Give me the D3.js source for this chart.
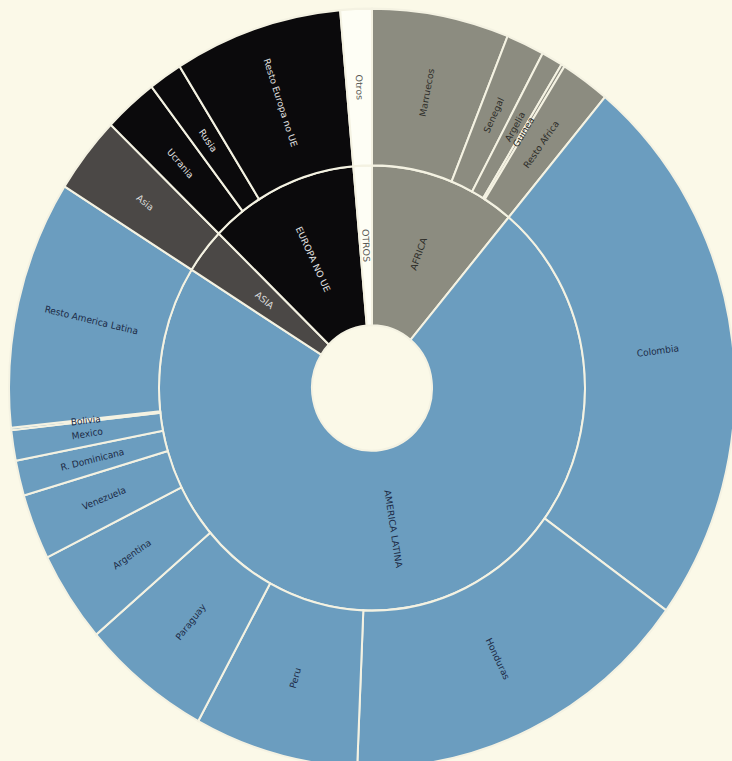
<!DOCTYPE html>
<html>
<head>
<meta charset="utf-8">
<script src="https://cdn.jsdelivr.net/npm/d3@7"></script>
<style>
  body { margin: 0; background: #fbf9e8; }
  #chart text { font-family: "DejaVu Sans", sans-serif; font-size: 9px; }
</style>
</head>
<body>
<div id="chart"></div>
<script>
(function(){
    // regiones (anillo interior)
    var regiones = ["AFRICA", "AMERICA LATINA", "ASIA", "EUROPA NO UE", "OTROS"];
    var coloresRegion = ["#8c8c80", "#6b9dbf", "#4b4846", "#0b0a0c", "#fefef5"];
    var textoRegion = ["#2e2e2a", "#1c2a45", "#dcdcdc", "#e2e2e2", "#5a5a55"];

    // paises (anillo exterior), en %
    var paises = ["Marruecos", "Senegal", "Argelia", "Guinea", "Resto Africa",
        "Colombia", "Honduras", "Peru", "Paraguay", "Argentina", "Venezuela",
        "R. Dominicana", "Mexico", "Bolivia", "Resto America Latina",
        "Asia",
        "Ucrania", "Rusia", "Resto Europa no UE",
        "Otros"];
    var regionDe = ["AFRICA", "AFRICA", "AFRICA", "AFRICA", "AFRICA",
        "AMERICA LATINA", "AMERICA LATINA", "AMERICA LATINA", "AMERICA LATINA", "AMERICA LATINA",
        "AMERICA LATINA", "AMERICA LATINA", "AMERICA LATINA", "AMERICA LATINA", "AMERICA LATINA",
        "ASIA",
        "EUROPA NO UE", "EUROPA NO UE", "EUROPA NO UE",
        "OTROS"];
    var valores = [6.1, 1.7, 0.95, 0.15, 2.2,
        23.9, 15.7, 7.3, 5.8, 3.9, 2.8, 1.5, 1.3, 0.1, 10.6,
        3.3,
        2.4, 1.5, 7.5,
        1.4];

    var width = 732;
    var height = 761;

    var svg = d3.select("#chart")
        .append("svg")
        .attr("width", width)
        .attr("height", height)

    svg.append("rect")
        .attr("width", width)
        .attr("height", height)
        .attr("fill", "#fbf9e8")

    // the picture is a bit taller than wide
    var g = svg.append("g")
        .attr("transform", "translate(372,388) scale(1,1.045)")

    var data = {
        name: "root",
        children: regiones.map(function(r){
            return {
                name: r,
                children: paises
                    .map(function(p, i){ return {name: p, region: regionDe[i], value: valores[i]} })
                    .filter(function(d){ return d.region == r })
            }
        })
    }

    var root = d3.hierarchy(data)
        .sum(function(d){ return d.value || 0 })

    d3.partition().size([2 * Math.PI, 3])(root)

    var radio = d3.scaleLinear().domain([1, 2, 3]).range([60, 213, 363])

    var arc = d3.arc()
        .startAngle(function(d){ return d.x0 })
        .endAngle(function(d){ return d.x1 })
        .innerRadius(function(d){ return radio(d.y0) })
        .outerRadius(function(d){ return radio(d.y1) })

    function regionIndex(d){
        var r = d.depth == 1 ? d : d.parent
        return regiones.indexOf(r.data.name)
    }

    var nodos = root.descendants().filter(function(d){ return d.depth > 0 })

    g.selectAll(".slice")
        .data(nodos)
        .enter().append("path")
        .attr("class", "slice")
        .attr("d", arc)
        .attr("fill", function(d){ return coloresRegion[regionIndex(d)] })
        .attr("stroke", "#f4f2e2")
        .attr("stroke-width", 2)

    g.selectAll(".label")
        .data(nodos)
        .enter().append("text")
        .attr("class", "label")
        .attr("transform", function(d){
            var x = (d.x0 + d.x1) / 2 * 180 / Math.PI
            var y = (radio(d.y0) + radio(d.y1)) / 2
            return "rotate(" + (x - 90) + ") translate(" + y + ",0) rotate(" + (x < 180 ? 0 : 180) + ")"
        })
        .attr("dy", "0.35em")
        .attr("text-anchor", "middle")
        .attr("fill", function(d){ return textoRegion[regionIndex(d)] })
        .text(function(d){ return d.data.name })
})();
</script>
</body>
</html>
